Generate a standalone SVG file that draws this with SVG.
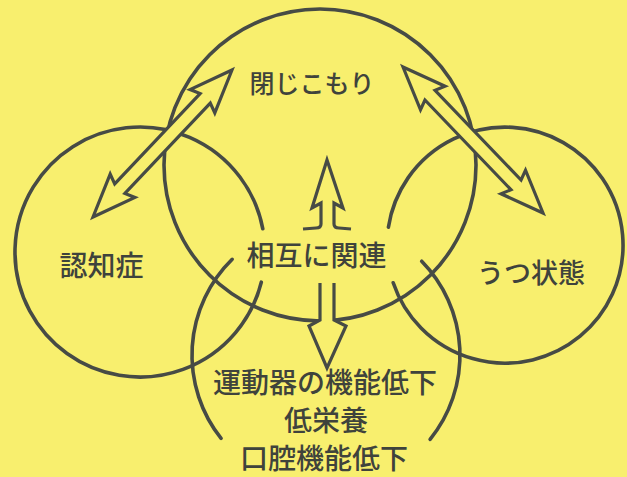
<svg xmlns="http://www.w3.org/2000/svg" width="627" height="477" viewBox="0 0 627 477">
  <defs>
    <style>
      .ring { fill: none; stroke: #474b45; stroke-width: 3.6; stroke-linecap: round; }
      .arrow { fill: #f8ef6e; stroke: #474b45; stroke-width: 3.2; stroke-linejoin: miter; stroke-linecap: butt; }
      .label { font-family: "Noto Sans CJK JP", "Noto Sans", sans-serif; font-weight: 500; fill: #3f433c; text-anchor: middle; }
    </style>
  </defs>
  <rect x="0" y="0" width="627" height="477" fill="#f8ef6e"/>

  <g id="node-tojikomori">
    <circle class="ring" cx="320" cy="165" r="156"/>
    <text class="label" x="312" y="93" font-size="25">閉じこもり</text>
  </g>

  <g id="node-ninchisho">
    <path class="ring" d="M 261.3 282.2 A 125 125 0 1 1 262.8 228.8"/>
    <text class="label" x="101.5" y="275.5" font-size="28">認知症</text>
  </g>

  <g id="node-utsu">
    <path class="ring" d="M 388.4 227.2 A 118 118 0 1 1 393.2 282.8"/>
    <text class="label" x="531" y="283" font-size="27">うつ状態</text>
  </g>

  <g id="node-undoki">
    <path class="ring" d="M 232.2 259.3 A 134 134 0 0 0 221.1 438.4"/>
    <path class="ring" d="M 421.7 261.2 A 134 134 0 0 1 430.1 439.3"/>
    <text class="label" x="325" y="393" font-size="28">運動器の機能低下</text>
    <text class="label" x="326" y="430.5" font-size="28">低栄養</text>
    <text class="label" x="324" y="469" font-size="28">口腔機能低下</text>
  </g>

  <g id="node-center">
    <text class="label" x="316.5" y="265.5" font-size="28">相互に関連</text>
  </g>

  <g id="connectors">
    <!-- left double arrow: 閉じこもり <-> 認知症 -->
    <path class="arrow" transform="translate(232 70) rotate(133.4)" d="M 0 0 L 43 -17 L 39 -7 L 163.3 -7 L 159.3 -17 L 202.3 0 L 159.3 17 L 163.3 7 L 39 7 L 43 17 Z"/>
    <!-- right double arrow: 閉じこもり <-> うつ状態 -->
    <path class="arrow" transform="translate(403 67) rotate(46.2)" d="M 0 0 L 43 -17 L 39 -7 L 163.3 -7 L 159.3 -17 L 202.3 0 L 159.3 17 L 163.3 7 L 39 7 L 43 17 Z"/>
    <!-- up arrow -->
    <path class="arrow" d="M 303 229 L 316 228 Q 321 228 321 224 L 321 203 L 312 208 L 327 160 L 343 208 L 334 203 L 334 224 Q 334 228 339 228 L 351 229"/>
    <!-- down arrow -->
    <path class="arrow" d="M 320 283 L 320 320 L 309 326 L 327 368 L 346 326 L 334 320 L 334 283"/>
  </g>
</svg>
